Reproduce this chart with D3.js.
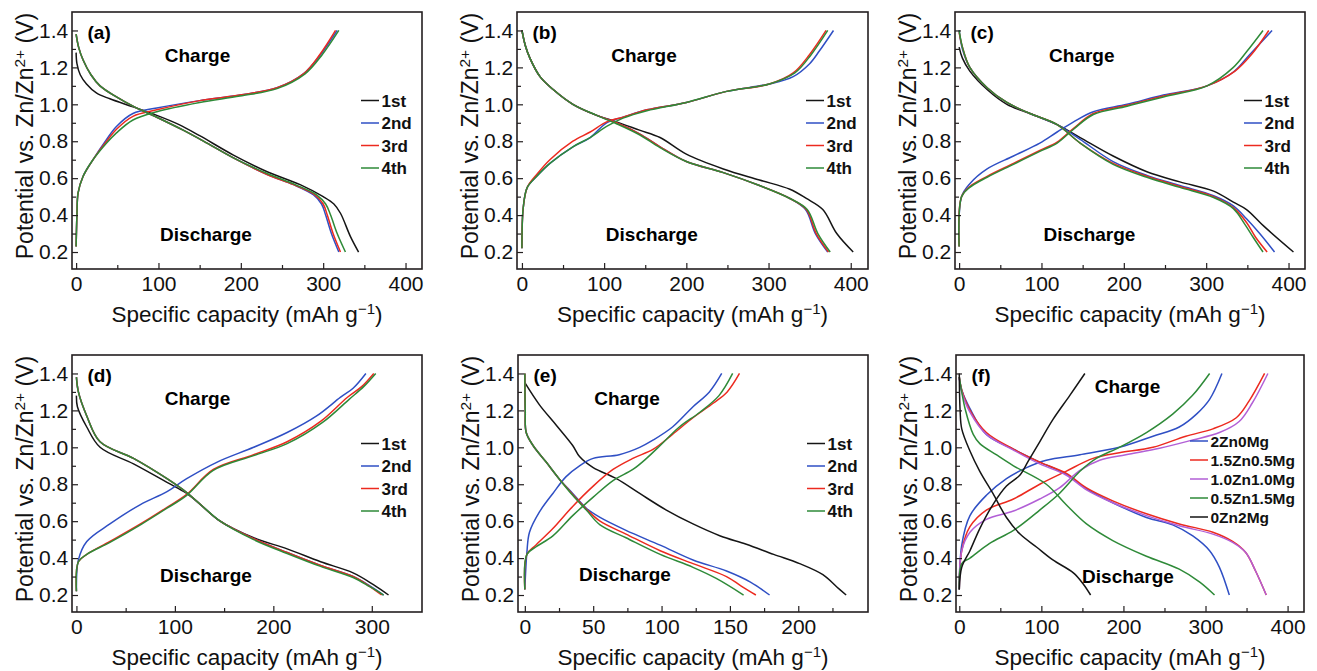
<!DOCTYPE html>
<html lang="en">
<head>
<meta charset="UTF-8" />
<title>Charge/discharge profiles</title>
<script src="https://d3js.org/d3.v7.min.js"></script>
<style>
  html, body { margin: 0; padding: 0; background: #fff; }
  svg { display: block; font-family: Arial, "Liberation Sans", sans-serif; }
  .frame { fill: none; stroke: #231f20; stroke-width: 1.6; }
  .tick line { stroke: #231f20; stroke-width: 1.2; }
  .tick text { fill: #111; }
  .curve { fill: none; stroke-width: 1.5; }
</style>
</head>
<body>
<svg id="chart" width="1317" height="671"></svg>
<script>
// ---- ticks / labels ----
const voltTicks = [0.2, 0.4, 0.6, 0.8, 1.0, 1.2, 1.4];
const voltMinor = [0.3, 0.5, 0.7, 0.9, 1.1, 1.3];
const capTicks400 = [0, 100, 200, 300, 400];
const capMinor400 = [50, 150, 250, 350];
const capTicks300 = [0, 100, 200, 300];
const capMinor300 = [50, 150, 250];
const capTicks200 = [0, 50, 100, 150, 200];
const capMinor200 = [25, 75, 125, 175, 225];
const cycleNames = ["1st", "2nd", "3rd", "4th"];
const compNames = ["2Zn0Mg", "1.5Zn0.5Mg", "1.0Zn1.0Mg", "0.5Zn1.5Mg", "0Zn2Mg"];

// ---- panel (a): [capacity, potential] ----
const aDis1 = [[0,1.28],[1,1.22],[5,1.16],[12.6,1.11],[25,1.06],[41,1.03],[69,0.986],[98,0.94],[125,0.89],[150,0.83],[191,0.725],[232,0.635],[272,0.565],[300,0.5],[313,0.46],[321,0.41],[333,0.285],[343,0.2]];
const aDis2 = [[0,1.38],[3,1.31],[8.5,1.24],[18,1.16],[29,1.1],[49,1.04],[69,0.99],[98,0.93],[130,0.86],[159,0.79],[191,0.71],[232,0.62],[264,0.565],[288,0.51],[298,0.46],[303,0.4],[310,0.3],[319,0.2]];
const aDis3 = [[0,1.38],[3,1.31],[8.5,1.24],[18,1.16],[29,1.1],[49,1.04],[69,0.99],[98,0.93],[130,0.86],[159,0.79],[191,0.71],[232,0.62],[264,0.565],[290,0.51],[300,0.46],[305,0.4],[312,0.3],[321,0.2]];
const aDis4 = [[0,1.38],[3,1.31],[8.5,1.24],[18,1.16],[29,1.1],[49,1.04],[69,0.99],[98,0.93],[130,0.86],[159,0.79],[191,0.71],[232,0.625],[266,0.565],[292,0.51],[303,0.46],[309,0.4],[317,0.3],[327,0.2]];
const aCh2 = [[0,0.23],[1,0.4],[2.4,0.52],[8.5,0.61],[19,0.69],[37,0.81],[49,0.88],[69,0.95],[98,0.98],[150,1.02],[199,1.05],[244,1.09],[276,1.165],[297,1.27],[317,1.4]];
const aCh3 = [[0,0.23],[1,0.4],[2.4,0.52],[8.5,0.61],[19,0.69],[37,0.8],[49,0.865],[69,0.935],[98,0.97],[150,1.02],[199,1.05],[244,1.09],[276,1.165],[296,1.27],[315,1.4]];
const aCh4 = [[0,0.23],[1,0.4],[2.4,0.52],[8.5,0.61],[19,0.69],[37,0.79],[49,0.845],[69,0.915],[98,0.96],[150,1.01],[199,1.045],[244,1.085],[278,1.165],[299,1.27],[319,1.4]];

// ---- panel (b) ----
const bDis1 = [[0,1.4],[4,1.32],[9.7,1.25],[22,1.15],[38,1.08],[62,1.0],[91,0.94],[115,0.905],[143,0.86],[168,0.82],[200,0.73],[245,0.65],[289,0.59],[326,0.54],[346,0.49],[366,0.43],[383,0.3],[403,0.2]];
const bDis2 = [[0,1.4],[4,1.32],[9.7,1.25],[22,1.15],[38,1.08],[62,1.0],[91,0.94],[115,0.9],[143,0.84],[168,0.77],[200,0.69],[245,0.63],[289,0.56],[326,0.49],[345,0.43],[357,0.3],[372,0.2]];
const bDis3 = [[0,1.4],[4,1.32],[9.7,1.25],[22,1.15],[38,1.08],[62,1.0],[91,0.94],[115,0.9],[143,0.84],[168,0.77],[200,0.69],[245,0.63],[289,0.56],[326,0.49],[346,0.43],[358,0.3],[373,0.2]];
const bDis4 = [[0,1.4],[4,1.32],[9.7,1.25],[22,1.15],[38,1.08],[62,1.0],[91,0.94],[115,0.895],[143,0.835],[168,0.765],[200,0.69],[245,0.63],[289,0.56],[326,0.49],[347,0.43],[360,0.3],[375,0.2]];
const bCh2 = [[0,0.22],[1.6,0.44],[6.5,0.55],[18,0.61],[34,0.68],[62,0.77],[83,0.82],[103,0.9],[123,0.93],[152,0.97],[200,1.01],[249,1.07],[301,1.11],[330,1.15],[350,1.22],[362,1.29],[379,1.4]];
const bCh3 = [[0,0.22],[1.6,0.44],[6.5,0.55],[18,0.62],[34,0.7],[62,0.8],[83,0.85],[103,0.905],[123,0.93],[152,0.97],[200,1.01],[249,1.07],[301,1.11],[330,1.17],[350,1.27],[370,1.4]];
const bCh4 = [[0,0.22],[1.6,0.44],[6.5,0.55],[18,0.61],[34,0.68],[62,0.77],[83,0.82],[103,0.88],[123,0.925],[152,0.965],[200,1.01],[249,1.07],[301,1.11],[332,1.17],[352,1.27],[372,1.4]];

// ---- panel (c) ----
const cDis1 = [[0,1.31],[4,1.25],[13,1.18],[34,1.08],[58,1.0],[86,0.95],[119,0.89],[147,0.82],[187,0.72],[228,0.635],[268,0.58],[309,0.53],[333,0.47],[349,0.43],[370,0.34],[406,0.2]];
const cDis2 = [[0,1.4],[4,1.3],[13,1.2],[34,1.09],[58,1.01],[86,0.95],[119,0.89],[147,0.81],[187,0.69],[228,0.615],[268,0.56],[309,0.505],[333,0.45],[349,0.38],[365,0.3],[383,0.2]];
const cDis3 = [[0,1.39],[4,1.31],[13,1.2],[34,1.09],[58,1.01],[86,0.95],[119,0.89],[147,0.79],[187,0.68],[228,0.61],[268,0.555],[309,0.5],[333,0.44],[349,0.36],[360,0.28],[374,0.2]];
const cDis4 = [[0,1.4],[4,1.31],[13,1.2],[34,1.09],[58,1.01],[86,0.95],[119,0.89],[147,0.79],[187,0.675],[228,0.605],[268,0.55],[309,0.495],[333,0.435],[347,0.35],[357,0.28],[369,0.2]];
const cCh2 = [[0,0.23],[3,0.5],[13,0.57],[34,0.65],[66,0.72],[98,0.79],[119,0.85],[139,0.905],[163,0.96],[204,1.0],[248,1.05],[301,1.1],[333,1.175],[353,1.27],[380,1.4]];
const cCh3 = [[0,0.23],[3,0.5],[13,0.555],[34,0.61],[66,0.68],[98,0.75],[119,0.795],[139,0.87],[163,0.95],[204,0.995],[248,1.045],[301,1.1],[335,1.18],[355,1.27],[376,1.4]];
const cCh4 = [[0,0.23],[3,0.5],[13,0.55],[34,0.605],[66,0.675],[98,0.745],[119,0.79],[139,0.865],[163,0.945],[204,0.99],[248,1.04],[301,1.1],[333,1.2],[350,1.29],[369,1.4]];

// ---- panel (d) ----
const dDis1 = [[0,1.28],[1,1.22],[10.5,1.11],[24,1.0],[58,0.91],[92,0.81],[112,0.75],[126,0.69],[146,0.6],[180,0.51],[214,0.45],[248,0.38],[281,0.32],[302,0.255],[317,0.2]];
const dDis2 = [[0,1.38],[2,1.3],[10.5,1.17],[24,1.03],[58,0.94],[92,0.83],[112,0.755],[126,0.69],[146,0.6],[180,0.505],[214,0.43],[248,0.36],[281,0.3],[298,0.25],[312,0.2]];
const dDis3 = [[0,1.38],[2,1.3],[10.5,1.17],[24,1.03],[58,0.94],[92,0.83],[112,0.755],[126,0.69],[146,0.6],[180,0.505],[214,0.43],[248,0.36],[281,0.3],[297,0.25],[310,0.2]];
const dDis4 = [[0,1.38],[2,1.3],[10.5,1.17],[24,1.03],[58,0.94],[92,0.83],[112,0.755],[126,0.69],[146,0.6],[180,0.5],[214,0.425],[248,0.355],[281,0.295],[298,0.245],[312,0.2]];
const dCh2 = [[0,0.22],[2,0.39],[10.5,0.49],[34,0.585],[65,0.69],[92,0.76],[112,0.83],[143,0.92],[180,1.0],[214,1.08],[244,1.17],[268,1.27],[281,1.32],[294,1.4]];
const dCh3 = [[0,0.22],[2,0.38],[10.5,0.42],[34,0.49],[65,0.585],[92,0.675],[112,0.745],[139,0.88],[180,0.96],[214,1.03],[248,1.14],[275,1.27],[290,1.33],[302,1.4]];
const dCh4 = [[0,0.22],[2,0.38],[10.5,0.42],[34,0.485],[65,0.58],[92,0.67],[112,0.74],[139,0.875],[180,0.955],[214,1.02],[250,1.135],[277,1.26],[292,1.33],[304,1.4]];

// ---- panel (e) ----
const eDis1 = [[0,1.35],[10.7,1.23],[23,1.12],[35,1.01],[40,0.95],[50,0.89],[67,0.83],[84,0.75],[103.5,0.66],[123,0.585],[143,0.52],[162,0.475],[182,0.42],[201,0.37],[218,0.31],[228,0.245],[235,0.2]];
const eDis2 = [[0,1.4],[0.3,1.2],[1,1.08],[6,1.01],[15.6,0.92],[25,0.83],[35,0.75],[45,0.67],[55,0.62],[74,0.55],[99,0.47],[123,0.39],[147.5,0.33],[165,0.27],[179,0.2]];
const eDis3 = [[0,1.4],[0.3,1.2],[1,1.08],[6,1.01],[15.6,0.92],[25,0.83],[35,0.745],[45,0.665],[55,0.6],[74,0.53],[99,0.44],[123,0.37],[147.5,0.3],[158,0.25],[169,0.2]];
const eDis4 = [[0,1.4],[0.3,1.2],[1,1.08],[6,1.01],[15.6,0.92],[25,0.83],[35,0.74],[45,0.66],[55,0.58],[74,0.51],[99,0.42],[123,0.35],[140,0.29],[160,0.2]];
const eCh2 = [[0,0.23],[1.5,0.43],[3.4,0.54],[10.7,0.65],[20.5,0.75],[30,0.84],[40,0.9],[50,0.94],[69,0.96],[84,1.0],[94,1.04],[108,1.11],[123,1.22],[135,1.3],[144,1.4]];
const eCh3 = [[0,0.23],[1.5,0.42],[8,0.47],[20.5,0.56],[35,0.68],[50,0.79],[64.5,0.88],[79,0.94],[94,0.99],[108,1.07],[123,1.16],[138,1.24],[148,1.3],[157,1.4]];
const eCh4 = [[0,0.23],[1.5,0.42],[8,0.46],[20.5,0.52],[35,0.63],[50,0.73],[64.5,0.82],[79,0.88],[89,0.94],[99,1.01],[113,1.11],[128,1.19],[142,1.28],[152,1.4]];

// ---- panel (f): composition series ----
const fDis2Zn = [[0,1.38],[3,1.31],[13,1.21],[33,1.07],[66,0.99],[98,0.92],[130,0.855],[155,0.775],[187,0.7],[228,0.62],[260,0.58],[284.5,0.52],[305,0.44],[317,0.35],[329,0.2]];
const fCh2Zn = [[0,0.23],[3,0.47],[13,0.63],[33,0.74],[57.5,0.83],[82,0.89],[106,0.93],[147,0.96],[195,1.0],[236,1.06],[268,1.11],[289,1.18],[305,1.26],[320,1.4]];
const fDis15Zn = [[0,1.38],[3,1.31],[13,1.2],[33,1.08],[66,0.99],[98,0.92],[130,0.86],[155,0.78],[187,0.71],[228,0.64],[268,0.585],[309,0.54],[333,0.49],[349,0.43],[361,0.33],[374,0.2]];
const fCh15Zn = [[0,0.23],[3,0.44],[13,0.57],[33,0.66],[66,0.72],[98,0.8],[130,0.87],[163,0.94],[195,0.97],[236,1.0],[276,1.06],[309,1.1],[337.5,1.16],[353,1.25],[372,1.4]];
const fDis10Zn = [[0,1.37],[3,1.3],[13,1.19],[33,1.07],[66,0.985],[98,0.91],[130,0.85],[155,0.77],[187,0.7],[228,0.63],[268,0.575],[309,0.53],[333,0.485],[349,0.43],[361,0.33],[374,0.2]];
const fCh10Zn = [[0,0.23],[3,0.44],[13,0.54],[33,0.61],[66,0.655],[98,0.72],[122,0.78],[147,0.875],[171,0.93],[203,0.96],[244,0.995],[284.5,1.04],[317,1.08],[341,1.14],[357,1.24],[376,1.4]];
const fDis05Zn = [[0,1.38],[3,1.3],[7,1.21],[17,1.07],[25,1.02],[45,0.96],[66,0.9],[106,0.8],[130,0.69],[155,0.585],[187,0.495],[228,0.41],[268,0.34],[293,0.27],[311,0.2]];
const fCh05Zn = [[0,0.23],[3,0.37],[13,0.4],[37,0.48],[66,0.55],[98,0.66],[122,0.75],[147,0.87],[167,0.94],[195,1.0],[228,1.08],[260,1.18],[284,1.28],[305,1.4]];
const fDis0Zn = [[0,1.4],[1,1.2],[3,1.1],[13,0.98],[25,0.87],[41,0.75],[57.5,0.62],[74,0.53],[94,0.46],[114,0.39],[139,0.32],[151,0.26],[160,0.2]];
const fCh0Zn = [[0,0.23],[3,0.35],[13,0.44],[25,0.56],[41,0.69],[57.5,0.79],[74,0.85],[84,0.925],[98,1.03],[114,1.15],[134.5,1.28],[153,1.4]];

const BLACK = "#151515", BLUE = "#2f4fc4", RED = "#ec2a1f", GREEN = "#2e8a38", PURPLE = "#b25fd6";

const cycleColors = [BLACK, BLUE, RED, GREEN];

const panels = [
  { tag: "(a)", left: 72, top: 12, width: 350, xDomain: [-5, 420], xTicks: capTicks400, xMinor: capMinor400,
    curves: [[aDis1], [aDis2, aCh2], [aDis3, aCh3], [aDis4, aCh4]], names: cycleNames, colors: cycleColors,
    chg: [125.5, 49.7], dis: [134, 228.7] },
  { tag: "(b)", left: 517, top: 12, width: 351, xDomain: [-6, 421], xTicks: capTicks400, xMinor: capMinor400,
    curves: [[bDis1], [bDis2, bCh2], [bDis3, bCh3], [bDis4, bCh4]], names: cycleNames, colors: cycleColors,
    chg: [127, 49.7], dis: [134.8, 228.7] },
  { tag: "(c)", left: 955, top: 12, width: 350, xDomain: [-5, 420], xTicks: capTicks400, xMinor: capMinor400,
    curves: [[cDis1], [cDis2, cCh2], [cDis3, cCh3], [cDis4, cCh4]], names: cycleNames, colors: cycleColors,
    chg: [126.8, 49.7], dis: [134.5, 228.7] },
  { tag: "(d)", left: 72, top: 355, width: 350, xDomain: [-4.5, 351], xTicks: capTicks300, xMinor: capMinor300,
    curves: [[dDis1], [dDis2, dCh2], [dDis3, dCh3], [dDis4, dCh4]], names: cycleNames, colors: cycleColors,
    chg: [125.5, 50], dis: [134, 227] },
  { tag: "(e)", left: 518, top: 355, width: 350, xDomain: [-5, 251], xTicks: capTicks200, xMinor: capMinor200,
    curves: [[eDis1], [eDis2, eCh2], [eDis3, eCh3], [eDis4, eCh4]], names: cycleNames, colors: cycleColors,
    chg: [109, 50], dis: [107, 226] },
  { tag: "(f)", left: 956, top: 355, width: 348, xDomain: [-4, 420], xTicks: capTicks400, xMinor: capMinor400,
    curves: [[fDis2Zn, fCh2Zn], [fDis15Zn, fCh15Zn], [fDis10Zn, fCh10Zn], [fDis05Zn, fCh05Zn], [fDis0Zn, fCh0Zn]],
    names: compNames, colors: [BLUE, RED, PURPLE, GREEN, BLACK],
    chg: [171.5, 38], dis: [172, 227.7], legend: { x: 234, y: 86, step: 19, size: 15.5 } }
];

const panelHeight = 257;
const svg = d3.select("#chart");

panels.forEach((p) => {
  const x = d3.scaleLinear().domain(p.xDomain).range([p.left, p.left + p.width]);
  const y = d3.scaleLinear().domain([0.108, 1.5]).range([p.top + panelHeight, p.top]);
  const bottom = p.top + panelHeight;
  const g = svg.append("g");

  // curves
  const line = d3.line()
    .x((d) => x(d[0]))
    .y((d) => y(d[1]))
    .curve(d3.curveCatmullRom.alpha(0.5));

  p.curves.forEach((set, i) => {
    set.forEach((pts) => {
      g.append("path")
        .attr("class", "curve")
        .attr("stroke", p.colors[i])
        .attr("d", line(pts));
    });
  });

  // axes with inward ticks
  const xAxis = g.append("g").attr("transform", `translate(0,${bottom})`)
    .call(d3.axisBottom(x).tickValues(p.xTicks).tickSize(-6).tickPadding(6.6).tickFormat(d3.format("d")));
  const xMinor = g.append("g").attr("transform", `translate(0,${bottom})`)
    .call(d3.axisBottom(x).tickValues(p.xMinor).tickSize(-4).tickFormat(""));
  const yAxis = g.append("g").attr("transform", `translate(${p.left},0)`)
    .call(d3.axisLeft(y).tickValues(voltTicks).tickSize(-6).tickPadding(3.7).tickFormat(d3.format(".1f")));
  const yMinor = g.append("g").attr("transform", `translate(${p.left},0)`)
    .call(d3.axisLeft(y).tickValues(voltMinor).tickSize(-4).tickFormat(""));

  [xAxis, xMinor, yAxis, yMinor].forEach((a) => {
    a.select(".domain").remove();
    a.attr("font-family", null).attr("font-size", 21);
  });

  // frame
  g.append("rect")
    .attr("class", "frame")
    .attr("x", p.left).attr("y", p.top)
    .attr("width", p.width).attr("height", panelHeight);

  // axis titles
  const xt = g.append("text")
    .attr("x", p.left + p.width / 2)
    .attr("y", bottom + 52.5)
    .attr("text-anchor", "middle")
    .attr("font-size", 22.5)
    .attr("fill", "#111");
  xt.append("tspan").text("Specific capacity (mAh g");
  xt.append("tspan").attr("baseline-shift", "super").attr("font-size", 15).text("\u22121");
  xt.append("tspan").text(")");

  const yt = g.append("text")
    .attr("transform", `translate(${p.left - 39},${p.top + 124}) rotate(-90)`)
    .attr("text-anchor", "middle")
    .attr("font-size", 23)
    .attr("fill", "#111");
  yt.append("tspan").text("Potential vs. Zn/Zn");
  yt.append("tspan").attr("baseline-shift", "super").attr("font-size", 15.5).text("2+");
  yt.append("tspan").text(" (V)");

  // panel tag and annotations
  g.append("text")
    .attr("x", p.left + 15.5).attr("y", p.top + 26.5)
    .attr("font-size", 19).attr("font-weight", "bold").text(p.tag);
  g.append("text")
    .attr("x", p.left + p.chg[0]).attr("y", p.top + p.chg[1])
    .attr("text-anchor", "middle").attr("font-size", 19).attr("font-weight", "bold").text("Charge");
  g.append("text")
    .attr("x", p.left + p.dis[0]).attr("y", p.top + p.dis[1])
    .attr("text-anchor", "middle").attr("font-size", 19).attr("font-weight", "bold").text("Discharge");

  // legend
  const lg = p.legend || { x: 289, y: 88.5, step: 22.5, size: 17 };
  p.names.forEach((name, i) => {
    const ly = p.top + lg.y + i * lg.step;
    g.append("line")
      .attr("x1", p.left + lg.x).attr("x2", p.left + lg.x + 18)
      .attr("y1", ly).attr("y2", ly)
      .attr("stroke", p.colors[i]).attr("stroke-width", 1.5);
    g.append("text")
      .attr("x", p.left + lg.x + 20.5).attr("y", ly)
      .attr("dy", "0.36em")
      .attr("font-size", lg.size).attr("font-weight", "bold")
      .attr("fill", "#111")
      .text(name);
  });
});
</script>
</body>
</html>
